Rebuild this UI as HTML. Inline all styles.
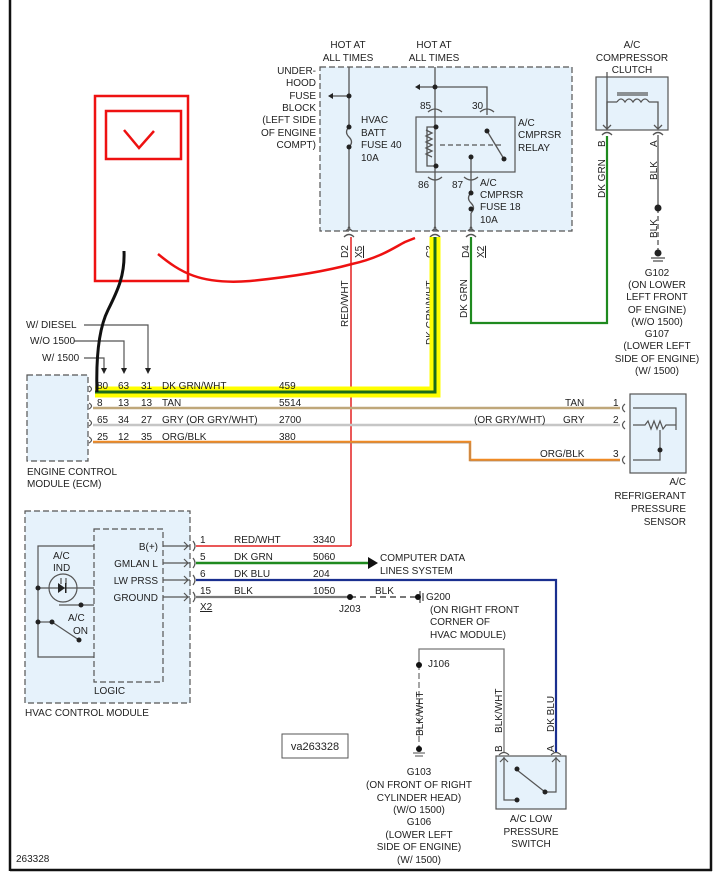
<!DOCTYPE html>
<html><head><meta charset="utf-8"><style>
html,body{margin:0;padding:0;background:#fff}
svg{display:block}
text{font-family:"Liberation Sans",sans-serif;font-size:10px;fill:#222}
</style></head><body>
<svg width="722" height="882" viewBox="0 0 722 882" xmlns="http://www.w3.org/2000/svg">
<rect x="0" y="0" width="722" height="882" fill="#fff"/>
<!-- frame -->
<line x1="10" y1="0" x2="10" y2="871" stroke="#111" stroke-width="2.5"/>
<line x1="10" y1="870" x2="712" y2="870" stroke="#111" stroke-width="2.5"/>
<line x1="711" y1="0" x2="711" y2="871" stroke="#111" stroke-width="2.5"/>

<g fill="#e6f2fb" stroke="#555" stroke-dasharray="6,3" stroke-width="1.2">
<rect x="320" y="67" width="252" height="164"/>
<rect x="27" y="375" width="61" height="86"/>
<rect x="25" y="511" width="165" height="192"/>
<rect x="94" y="529" width="69" height="153"/>
</g>
<g fill="#e6f2fb" stroke="#555" stroke-width="1.2">
<rect x="416" y="117" width="99" height="55"/>
<rect x="596" y="77" width="72" height="53"/>
<rect x="630" y="394" width="56" height="79"/>
<rect x="496" y="756" width="70" height="53"/>
</g>

<!-- fuse block internals -->
<g stroke="#555" stroke-width="1.3" fill="none">
<line x1="349" y1="67" x2="349" y2="127"/><path d="M349 127 q-5 5 0 10 q5 5 0 10"/><line x1="349" y1="147" x2="349" y2="231"/>
<line x1="349" y1="96" x2="333" y2="96"/>
<line x1="435" y1="67" x2="435" y2="231"/>
<line x1="435" y1="87" x2="420" y2="87"/>
<polyline points="435,87 487,87 487,115"/>
<path d="M428 112 q7 -6 14 0 M480 112 q7 -6 14 0"/>
<path d="M428 177 q7 6 14 0 M464 177 q7 6 14 0"/>
<line x1="471" y1="157" x2="471" y2="178"/>
<line x1="471" y1="178" x2="471" y2="193"/><path d="M471 193 q-5 5 0 10 q5 5 0 10"/><line x1="471" y1="213" x2="471" y2="231"/>
<path d="M436 127 h-9 v39 h9"/>
<path d="M426 130 l6 3 l-6 3 l6 3 l-6 3 l6 3 l-6 3 l6 3 l-6 3 l6 3"/>
<line x1="440" y1="145" x2="502" y2="145" stroke-dasharray="5,3"/>
<line x1="487" y1="131" x2="504" y2="159"/>
<path d="M438 231 l-4 -4 M432 231 l4 -4 M352 231 l-4 -4 M346 231 l4 -4 M474 231 l-4 -4 M468 231 l4 -4"/>
<path d="M344 237 q5 -5 10 0 M430 237 q5 -5 10 0 M466 237 q5 -5 10 0"/>
<!-- compressor -->
<path d="M607 130 v-58 M606 77 h0"/>
<polyline points="607,128 607,102 617,102"/><path d="M617 102 q4 -6 8 0 q4 -6 8 0 q4 -6 8 0 q4 -6 8 0"/><polyline points="649,102 658,102 658,128"/>
<line x1="617" y1="95" x2="648" y2="95"/><line x1="617" y1="93" x2="648" y2="93"/>
<path d="M603 125 l4 4 l4 -4 M654 125 l4 4 l4 -4"/>
<path d="M602 135 q5 -5 10 0 M653 135 q5 -5 10 0"/>
<line x1="658" y1="135" x2="658" y2="208"/>
<line x1="658" y1="208" x2="658" y2="252" stroke-dasharray="5,3"/>
<line x1="651" y1="258" x2="665" y2="258"/><line x1="653" y1="261" x2="663" y2="261"/>
</g>
<g fill="#222">
<circle cx="349" cy="96" r="2.5"/><circle cx="349" cy="127" r="2.5"/><circle cx="349" cy="147" r="2.5"/>
<circle cx="435" cy="87" r="2.5"/><circle cx="436" cy="127" r="2.5"/><circle cx="436" cy="166" r="2.5"/><circle cx="487" cy="131" r="2.5"/><circle cx="504" cy="159" r="2.5"/><circle cx="471" cy="157" r="2.5"/>
<circle cx="471" cy="193" r="2.5"/><circle cx="471" cy="209" r="2.5"/>
<circle cx="658" cy="208" r="3.5"/><circle cx="658" cy="253" r="3.5"/>
<path d="M333 93 l-5 3 l5 3z M420 84 l-5 3 l5 3z"/>
</g>

<!-- text fuse block -->
<g text-anchor="middle">
<text x="348" y="48">HOT AT</text><text x="348" y="61">ALL TIMES</text>
<text x="434" y="48">HOT AT</text><text x="434" y="61">ALL TIMES</text>
<text x="632" y="48">A/C</text><text x="632" y="61">COMPRESSOR</text><text x="632" y="73">CLUTCH</text>
<text x="657" y="276">G102</text><text x="657" y="288">(ON LOWER</text><text x="657" y="300">LEFT FRONT</text><text x="657" y="313">OF ENGINE)</text><text x="657" y="325">(W/O 1500)</text><text x="657" y="337">G107</text><text x="657" y="349">(LOWER LEFT</text><text x="657" y="362">SIDE OF ENGINE)</text><text x="657" y="374">(W/ 1500)</text>
</g>
<g text-anchor="end">
<text x="316" y="74">UNDER-</text><text x="316" y="86">HOOD</text><text x="316" y="99">FUSE</text><text x="316" y="111">BLOCK</text><text x="316" y="123">(LEFT SIDE</text><text x="316" y="136">OF ENGINE</text><text x="316" y="148">COMPT)</text>
</g>
<text x="361" y="123">HVAC</text><text x="361" y="136">BATT</text><text x="361" y="148">FUSE 40</text><text x="361" y="161">10A</text>
<text x="420" y="109">85</text><text x="472" y="109">30</text>
<text x="518" y="126">A/C</text><text x="518" y="138">CMPRSR</text><text x="518" y="151">RELAY</text>
<text x="418" y="188">86</text><text x="452" y="188">87</text>
<text x="480" y="186">A/C</text><text x="480" y="198">CMPRSR</text><text x="480" y="210">FUSE 18</text><text x="480" y="223">10A</text>
<g transform="rotate(-90)">
<text x="-258" y="348">D2</text><text x="-258" y="362" text-decoration="underline">X5</text>
<text x="-258" y="433">C3</text>
<text x="-258" y="469">D4</text><text x="-258" y="484" text-decoration="underline">X2</text>
<text x="-327" y="348">RED/WHT</text>
<text x="-345" y="433">DK GRN/WHT</text>
<text x="-318" y="467">DK GRN</text>
<text x="-198" y="605">DK GRN</text>
<text x="-147" y="605">B</text>
<text x="-147" y="657">A</text>
<text x="-180" y="657">BLK</text>
<text x="-238" y="657">BLK</text>
</g>

<!-- wires -->
<line x1="351" y1="237" x2="351" y2="546" stroke="#e32020" stroke-width="1.5"/>
<polyline points="471,237 471,323 607,323 607,136" fill="none" stroke="#1f8a1f" stroke-width="2.2"/>
<polyline points="435,237 435,392 95,392" fill="none" stroke="#ffff00" stroke-width="11"/>
<polyline points="435,237 435,392 95,392" fill="none" stroke="#1a6b1a" stroke-width="3"/>
<line x1="93" y1="408" x2="620" y2="408" stroke="#bfa77a" stroke-width="2.5"/>
<line x1="93" y1="425" x2="620" y2="425" stroke="#c6c6c6" stroke-width="2.5"/>
<polyline points="93,442 470,442 470,460 620,460" fill="none" stroke="#f08a24" stroke-width="2.5"/>
<polyline points="93,443 470,443 470,461 620,461" fill="none" stroke="#888" stroke-width="0.6"/>

<!-- ECM option lines -->
<g stroke="#555" stroke-width="1.2" fill="none">
<polyline points="84,325 148,325 148,370"/>
<polyline points="74,341 124,341 124,370"/>
<polyline points="84,358 104,358 104,370"/>
<path d="M89 386 q5 3 0 6 M89 403 q5 3 0 6 M89 420 q5 3 0 6 M89 437 q5 3 0 6"/>
<path d="M625 404 q-5 4 0 8 M625 421 q-5 4 0 8 M625 456 q-5 4 0 8"/>
<polyline points="633,408 676,408 676,430"/>
<polyline points="633,425 645,425 648,421 651,429 654,421 657,429 660,421 663,429 666,425 676,425"/>
<polyline points="633,460 660,460 660,430"/>
</g>
<g fill="#222"><path d="M145 368 l3 6 l3 -6z M121 368 l3 6 l3 -6z M101 368 l3 6 l3 -6z"/><circle cx="660" cy="450" r="2.5"/></g>
<text x="26" y="328">W/ DIESEL</text><text x="30" y="344">W/O 1500</text><text x="42" y="361">W/ 1500</text>
<text x="97" y="389">80</text><text x="118" y="389">63</text><text x="141" y="389">31</text><text x="162" y="389">DK GRN/WHT</text><text x="279" y="389">459</text>
<text x="97" y="406">8</text><text x="118" y="406">13</text><text x="141" y="406">13</text><text x="162" y="406">TAN</text><text x="279" y="406">5514</text>
<text x="97" y="423">65</text><text x="118" y="423">34</text><text x="141" y="423">27</text><text x="162" y="423">GRY  (OR GRY/WHT)</text><text x="279" y="423">2700</text>
<text x="97" y="440">25</text><text x="118" y="440">12</text><text x="141" y="440">35</text><text x="162" y="440">ORG/BLK</text><text x="279" y="440">380</text>
<text x="27" y="475">ENGINE CONTROL</text><text x="27" y="487">MODULE (ECM)</text>
<text x="565" y="406">TAN</text><text x="613" y="406">1</text>
<text x="474" y="423">(OR GRY/WHT)</text><text x="563" y="423">GRY</text><text x="613" y="423">2</text>
<text x="540" y="457">ORG/BLK</text><text x="613" y="457">3</text>
<g text-anchor="end"><text x="686" y="485">A/C</text><text x="686" y="499">REFRIGERANT</text><text x="686" y="512">PRESSURE</text><text x="686" y="525">SENSOR</text></g>

<!-- HVAC module -->
<g stroke="#555" stroke-width="1.2" fill="none">
<polyline points="94,546 38,546 38,657 94,657"/>
<line x1="38" y1="588" x2="94" y2="588"/>
<circle cx="63" cy="588" r="14"/>
<polyline points="59,605 94,605 94,605"/>
<line x1="38" y1="622" x2="52" y2="622"/>
<line x1="52" y1="622" x2="79" y2="640"/>
<line x1="163" y1="546" x2="190" y2="546"/><line x1="163" y1="563" x2="190" y2="563"/><line x1="163" y1="580" x2="190" y2="580"/><line x1="163" y1="597" x2="190" y2="597"/>
<path d="M184 542 l4 4 l-4 4 M184 559 l4 4 l-4 4 M184 576 l4 4 l-4 4 M184 593 l4 4 l-4 4"/>
<path d="M193 541 q4 5 0 10 M193 558 q4 5 0 10 M193 575 q4 5 0 10 M193 592 q4 5 0 10"/>
<path d="M61 578 v6 M66 578 v6"/>
</g>
<g fill="#222"><path d="M58 583 l7 5 l-7 5z"/><rect x="65" y="583" width="1.5" height="10"/>
<circle cx="38" cy="588" r="2.5"/><circle cx="38" cy="622" r="2.5"/><circle cx="52" cy="622" r="2.5"/><circle cx="79" cy="640" r="2.5"/><circle cx="81" cy="605" r="2.5"/></g>
<text x="53" y="559">A/C</text><text x="53" y="571">IND</text>
<text x="68" y="621">A/C</text><text x="73" y="634">ON</text>
<g text-anchor="end"><text x="158" y="550">B(+)</text><text x="158" y="567">GMLAN L</text><text x="158" y="584">LW PRSS</text><text x="158" y="601">GROUND</text></g>
<text x="94" y="694">LOGIC</text>
<text x="25" y="716">HVAC CONTROL MODULE</text>

<line x1="196" y1="546" x2="351" y2="546" stroke="#e32020" stroke-width="1.5"/>
<line x1="196" y1="563" x2="370" y2="563" stroke="#1f8a1f" stroke-width="2.5"/>
<path d="M368 557 l10 6 l-10 6z" fill="#111"/>
<polyline points="196,580 556,580 556,752" fill="none" stroke="#1a2f8f" stroke-width="2.2"/>
<line x1="196" y1="597" x2="350" y2="597" stroke="#777" stroke-width="2.2"/>
<line x1="350" y1="597" x2="418" y2="597" stroke="#777" stroke-width="2" stroke-dasharray="6,4"/>
<circle cx="350" cy="597" r="3" fill="#111"/>
<g stroke="#444" stroke-width="1.2"><line x1="420" y1="591" x2="420" y2="603"/><line x1="423" y1="593" x2="423" y2="601"/></g>
<circle cx="418" cy="597" r="3" fill="#111"/>
<text x="200" y="543">1</text><text x="234" y="543">RED/WHT</text><text x="313" y="543">3340</text>
<text x="200" y="560">5</text><text x="234" y="560">DK GRN</text><text x="313" y="560">5060</text>
<text x="200" y="577">6</text><text x="234" y="577">DK BLU</text><text x="313" y="577">204</text>
<text x="200" y="594">15</text><text x="234" y="594">BLK</text><text x="313" y="594">1050</text>
<text x="200" y="610" text-decoration="underline">X2</text>
<text x="380" y="561">COMPUTER DATA</text><text x="380" y="574">LINES SYSTEM</text>
<text x="375" y="594">BLK</text><text x="339" y="612">J203</text>
<text x="426" y="600">G200</text><text x="430" y="613">(ON RIGHT FRONT</text><text x="430" y="625">CORNER OF</text><text x="430" y="638">HVAC MODULE)</text>

<g stroke="#777" stroke-width="1.3" fill="none">
<polyline points="419,664 419,649 504,649 504,752"/>
<line x1="419" y1="664" x2="419" y2="748" stroke-dasharray="6,3"/>
<line x1="413" y1="753" x2="425" y2="753"/><line x1="415" y1="756" x2="423" y2="756"/>
</g>
<circle cx="419" cy="665" r="3" fill="#111"/><circle cx="419" cy="749" r="3" fill="#111"/>
<text x="428" y="667">J106</text>
<g transform="rotate(-90)">
<text x="-736" y="423">BLK/WHT</text>
<text x="-733" y="502">BLK/WHT</text>
<text x="-732" y="554">DK BLU</text>
<text x="-752" y="502">B</text><text x="-752" y="554">A</text>
</g>
<g stroke="#555" stroke-width="1.2" fill="none">
<path d="M499 755 q5 -5 10 0 M551 755 q5 -5 10 0"/>
<polyline points="504,757 504,800 516,800"/>
<polyline points="556,757 556,792 545,792"/>
<path d="M500 762 l4 -4 l4 4 M552 762 l4 -4 l4 4"/>
<line x1="517" y1="770" x2="545" y2="792"/>
</g>
<g fill="#222"><circle cx="517" cy="769" r="2.5"/><circle cx="545" cy="792" r="2.5"/><circle cx="517" cy="800" r="2.5"/></g>
<g text-anchor="middle">
<text x="531" y="822">A/C LOW</text><text x="531" y="835">PRESSURE</text><text x="531" y="847">SWITCH</text>
<text x="419" y="775">G103</text><text x="419" y="788">(ON FRONT OF RIGHT</text><text x="419" y="801">CYLINDER HEAD)</text><text x="419" y="813">(W/O 1500)</text><text x="419" y="825">G106</text><text x="419" y="838">(LOWER LEFT</text><text x="419" y="850">SIDE OF ENGINE)</text><text x="419" y="863">(W/ 1500)</text>
</g>
<rect x="282" y="734" width="66" height="24" fill="#fff" stroke="#555"/>
<text x="315" y="750" text-anchor="middle" style="font-size:11px">va263328</text>
<text x="16" y="862">263328</text>

<!-- annotations -->
<g fill="none" stroke="#ee1111" stroke-width="2.5">
<rect x="95" y="96" width="93" height="185"/>
<rect x="106" y="111" width="75" height="48"/>
<polyline points="124,130 139,148 154,131"/>
<path d="M158 254 C180 272 200 285 250 281 C300 276 330 270 352 264 C380 258 395 247 405 242 L415 238"/>
</g>
<path d="M124 251 C125 275 118 290 108 310 C98 330 96 360 97 392" fill="none" stroke="#111" stroke-width="3"/>
</svg>
</body></html>
